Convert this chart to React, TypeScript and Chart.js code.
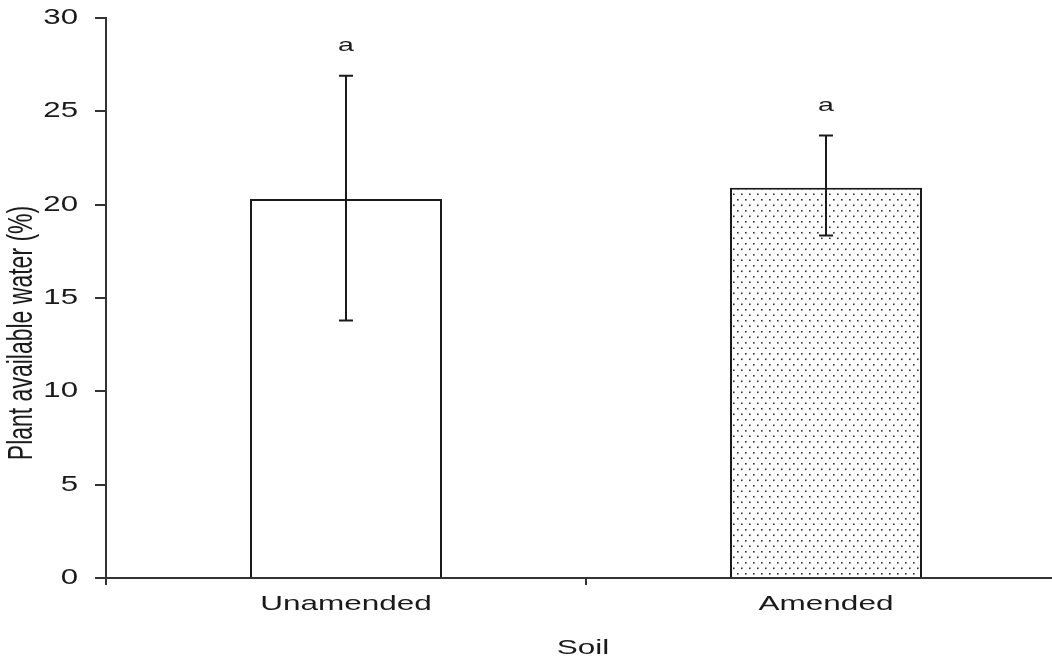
import React, { useEffect, useRef } from "react";
import { Chart, registerables } from "chart.js";

Chart.register(...registerables);

const categories = ["Unamended", "Amended"];
const meanValues = [20.3, 20.9];
const errLow = [13.8, 18.35];
const errHigh = [26.9, 23.7];
const letters = ["a", "a"];
const yTicks = [0, 5, 10, 15, 20, 25, 30];
const xTitle = "Soil";
const yTitle = "Plant available water (%)";

const INK = "#1a1a1a";
const STRETCH = 1.5;
const FONT = "Liberation Sans, Arial, sans-serif";

function makeDots(): CanvasPattern | string {
  const c = document.createElement("canvas");
  c.width = 8;
  c.height = 11;
  const g = c.getContext("2d");
  if (!g) return "#fff";
  g.fillStyle = "#ffffff";
  g.fillRect(0, 0, 8, 11);
  g.fillStyle = "#333333";
  g.fillRect(1, 1, 1.6, 1.6);
  g.fillRect(5, 6.5, 1.6, 1.6);
  const p = g.createPattern(c, "repeat");
  return p || "#fff";
}

const overlay = {
  id: "overlay",
  afterDatasetsDraw(chart: any) {
    const ctx = chart.ctx as CanvasRenderingContext2D;
    const xs = chart.scales.x;
    const ys = chart.scales.y;
    const area = chart.chartArea;
    ctx.save();
    // error bars
    ctx.strokeStyle = INK;
    ctx.lineWidth = 2;
    categories.forEach((_, i) => {
      const x = xs.getPixelForValue(i);
      const yl = ys.getPixelForValue(errLow[i]);
      const yh = ys.getPixelForValue(errHigh[i]);
      ctx.beginPath();
      ctx.moveTo(x, yl);
      ctx.lineTo(x, yh);
      ctx.moveTo(x - 7, yl);
      ctx.lineTo(x + 7, yl);
      ctx.moveTo(x - 7, yh);
      ctx.lineTo(x + 7, yh);
      ctx.stroke();
    });

    const stretched = (t: string, x: number, y: number, size: number, align: CanvasTextAlign, sx = STRETCH) => {
      ctx.save();
      ctx.translate(x, y);
      ctx.scale(sx, 1);
      ctx.font = `${size}px ${FONT}`;
      ctx.fillStyle = INK;
      ctx.textAlign = align;
      ctx.textBaseline = "middle";
      ctx.fillText(t, 0, 0);
      ctx.restore();
    };

    // significance letters
    categories.forEach((_, i) => {
      const x = xs.getPixelForValue(i);
      const y = ys.getPixelForValue(errHigh[i]) - 30;
      stretched(letters[i], x, y, 19, "center");
    });

    // y tick labels
    yTicks.forEach((v) => {
      stretched(String(v), area.left - 28, ys.getPixelForValue(v), 22, "right", 1.42);
    });

    // x tick labels
    categories.forEach((c, i) => {
      stretched(c, xs.getPixelForValue(i), area.bottom + 26, 21, "center");
    });

    // x title
    stretched(xTitle, 583, area.bottom + 70, 21, "center");

    // y title
    ctx.save();
    ctx.translate(22, 333);
    ctx.rotate(-Math.PI / 2);
    ctx.scale(1, STRETCH);
    ctx.font = `23px ${FONT}`;
    ctx.fillStyle = INK;
    ctx.textAlign = "center";
    ctx.textBaseline = "middle";
    ctx.fillText(yTitle, 0, 0);
    ctx.restore();

    ctx.restore();
  },
};

export default function App() {
  const ref = useRef<HTMLCanvasElement | null>(null);
  useEffect(() => {
    if (!ref.current) return;
    const dots = makeDots();
    const chart = new Chart(ref.current, {
      type: "bar",
      data: {
        labels: categories,
        datasets: [
          {
            data: meanValues,
            backgroundColor: ["#ffffff", dots as any],
            borderColor: INK,
            borderWidth: 2,
            barPercentage: 0.4,
            categoryPercentage: 1,
          },
        ],
      },
      options: {
        animation: false,
        responsive: false,
        devicePixelRatio: 1,
        layout: { padding: { left: 95, top: 18, right: 4, bottom: 72 } },
        plugins: { legend: { display: false }, tooltip: { enabled: false } },
        scales: {
          x: {
            grid: {
              display: true,
              offset: true,
              drawOnChartArea: false,
              drawTicks: true,
              tickLength: 7,
              color: "#333",
              lineWidth: 2,
            },
            border: { display: true, color: "#333", width: 2 },
            ticks: { display: false },
          },
          y: {
            min: 0,
            max: 30,
            afterBuildTicks: (s: any) => {
              s.ticks = yTicks.map((v) => ({ value: v }));
            },
            grid: {
              display: true,
              drawOnChartArea: false,
              drawTicks: true,
              tickLength: 11,
              color: "#333",
              lineWidth: 2,
            },
            border: { display: true, color: "#333", width: 2 },
            ticks: { display: false },
          },
        },
      },
      plugins: [overlay],
    });
    return () => chart.destroy();
  }, []);
  return (
    <div
      style={{
        position: "absolute",
        left: 0,
        top: 0,
        width: 1052,
        height: 657,
        overflow: "hidden",
        background: "#fff",
      }}
    >
      <canvas ref={ref} width={1070} height={657} style={{ width: 1070, height: 657, display: "block" }} />
    </div>
  );
}
